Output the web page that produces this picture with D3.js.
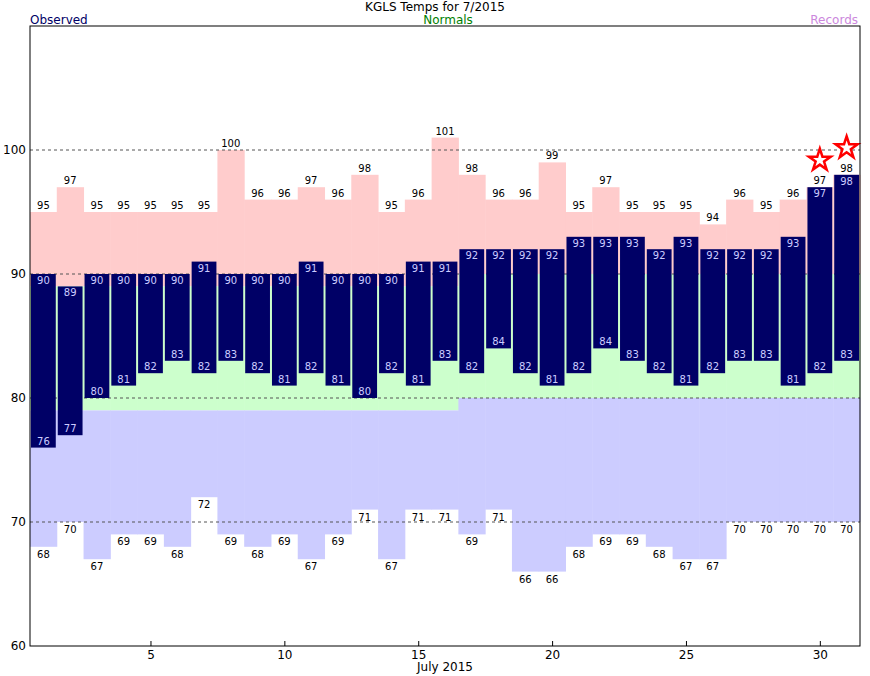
<!DOCTYPE html>
<html><head><meta charset="utf-8">
<script src="https://cdn.jsdelivr.net/npm/d3@7"></script>
<style>body{margin:0;background:#fff}text{font-family:"DejaVu Sans",sans-serif}</style>
</head><body><div id="chart"></div>
<script>
const days = d3.range(1, 32);
const recHigh = [95,97,95,95,95,95,95,100,96,96,97,96,98,95,96,101,98,96,96,99,95,97,95,95,95,94,96,95,96,97,98];
const recLow = [68,70,67,69,69,68,72,69,68,69,67,69,71,67,71,71,69,71,66,66,68,69,69,68,67,67,70,70,70,70,70];
const obsHigh = [90,89,90,90,90,90,91,90,90,90,91,90,90,90,91,91,92,92,92,92,93,93,93,92,93,92,92,92,93,97,98];
const obsLow = [76,77,80,81,82,83,82,83,82,81,82,81,80,82,81,83,82,84,82,81,82,84,83,82,81,82,83,83,81,82,83];
const normHigh = days.map(d => d <= 16 ? 89 : 90);
const normLow = days.map(d => d <= 16 ? 79 : 80);
const newRecordDays = [30, 31];
const yTicks = [60, 70, 80, 90, 100];
const xTicks = [5, 10, 15, 20, 25, 30];

const W = 870, H = 676;
const mLeft = 30, mRight = 860, mTop = 26, mBottom = 646;
const svg = d3.select("#chart").append("svg").attr("width", W).attr("height", H);
const x = d3.scaleLinear().domain([0.5, 31.5]).range([mLeft, mRight]);
const y = d3.scaleLinear().domain([60, 110]).range([mBottom, mTop]);
const bw = x(1.5) - x(0.5);

// background bands
days.forEach((d, i) => {
  const x0 = x(d - 0.5);
  svg.append("rect").attr("x", x0).attr("width", bw + 0.5).attr("y", y(recHigh[i])).attr("height", y(normHigh[i]) - y(recHigh[i])).attr("fill", "#ffcccc");
  svg.append("rect").attr("x", x0).attr("width", bw + 0.5).attr("y", y(normHigh[i])).attr("height", y(normLow[i]) - y(normHigh[i])).attr("fill", "#ccffcc");
  svg.append("rect").attr("x", x0).attr("width", bw + 0.5).attr("y", y(normLow[i])).attr("height", y(recLow[i]) - y(normLow[i])).attr("fill", "#ccccff");
});

// grid
yTicks.slice(1).forEach(t => {
  svg.append("line").attr("x1", mLeft).attr("x2", mRight).attr("y1", y(t)).attr("y2", y(t))
    .attr("stroke", "#555").attr("stroke-dasharray", "3,3").attr("stroke-width", 1);
});

// observed bars
days.forEach((d, i) => {
  svg.append("rect").attr("x", x(d - 0.5) + 1).attr("width", bw - 2)
    .attr("y", y(obsHigh[i])).attr("height", y(obsLow[i]) - y(obsHigh[i])).attr("fill", "#000066");
  svg.append("text").attr("x", x(d)).attr("y", y(obsHigh[i]) + 10).attr("text-anchor", "middle")
    .attr("font-size", 10).attr("fill", "#ccccff").text(obsHigh[i]);
  svg.append("text").attr("x", x(d)).attr("y", y(obsLow[i]) - 3).attr("text-anchor", "middle")
    .attr("font-size", 10).attr("fill", "#ccccff").text(obsLow[i]);
  svg.append("text").attr("x", x(d)).attr("y", y(recHigh[i]) - 3).attr("text-anchor", "middle")
    .attr("font-size", 10).attr("fill", "#000").text(recHigh[i]);
  svg.append("text").attr("x", x(d)).attr("y", y(recLow[i]) + 11).attr("text-anchor", "middle")
    .attr("font-size", 10).attr("fill", "#000").text(recLow[i]);
});

// stars for new records
newRecordDays.forEach(d => {
  const t = `translate(${x(d)},${y(obsHigh[d - 1]) - 27})`;
  svg.append("path").attr("d", d3.symbol().type(d3.symbolStar).size(150)).attr("transform", t)
    .attr("fill", "#fff").attr("stroke", "red").attr("stroke-width", 2.5);
});

// frame & axes
svg.append("rect").attr("x", mLeft).attr("y", mTop).attr("width", mRight - mLeft).attr("height", mBottom - mTop)
  .attr("fill", "none").attr("stroke", "#000");
const ya = svg.append("g").attr("transform", `translate(${mLeft},0)`)
  .call(d3.axisLeft(y).tickValues(yTicks).tickSize(0).tickPadding(4));
ya.select(".domain").remove();
ya.selectAll("text").attr("font-size", 12).attr("font-family", "DejaVu Sans");
const xa = svg.append("g").attr("transform", `translate(0,${mBottom})`)
  .call(d3.axisBottom(x).tickValues(xTicks).tickSize(-5).tickPadding(4));
xa.select(".domain").remove();
xa.selectAll("text").attr("font-size", 12).attr("font-family", "DejaVu Sans");
svg.append("text").attr("x", 445).attr("y", 671).attr("text-anchor", "middle").attr("font-size", 12).text("July 2015");

svg.append("text").attr("x", 435).attr("y", 11).attr("text-anchor", "middle").attr("font-size", 12).text("KGLS Temps for 7/2015");
svg.append("text").attr("x", 30).attr("y", 24).attr("font-size", 12).attr("fill", "#000066").text("Observed");
svg.append("text").attr("x", 448).attr("y", 24).attr("text-anchor", "middle").attr("font-size", 12).attr("fill", "green").text("Normals");
svg.append("text").attr("x", 858).attr("y", 24).attr("text-anchor", "end").attr("font-size", 12).attr("fill", "#cc88dd").text("Records");
</script></body></html>
